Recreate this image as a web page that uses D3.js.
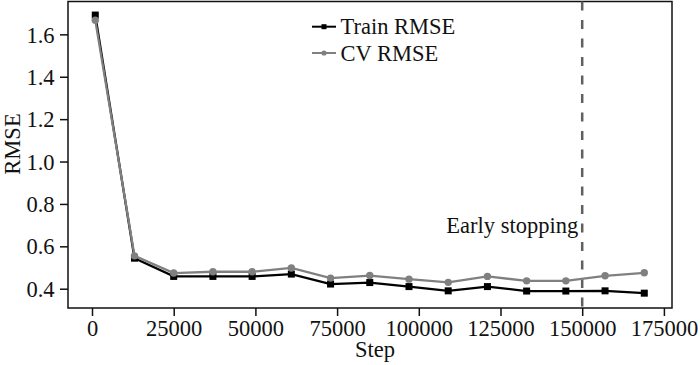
<!DOCTYPE html>
<html>
<head>
<meta charset="utf-8">
<script src="https://cdn.jsdelivr.net/npm/d3@7"></script>
<style>
  body { margin: 0; background: #fff; overflow: hidden; }
  svg { display: block; }
  text { font-family: "Liberation Serif", "Times New Roman", serif; }
</style>
</head>
<body>
<div id="main"></div>
<script>
// values
var steps = [1000, 13000, 25000, 37000, 49000, 61000, 73000, 85000, 97000, 109000, 121000, 133000, 145000, 157000, 169000];
var trainRmse = [1.691, 0.544, 0.458, 0.458, 0.458, 0.469, 0.422, 0.429, 0.41, 0.39, 0.41, 0.389, 0.389, 0.39, 0.379];
var cvRmse = [1.667, 0.555, 0.474, 0.48, 0.48, 0.498, 0.45, 0.462, 0.445, 0.43, 0.458, 0.437, 0.437, 0.461, 0.475];
var xTicks = [0, 25000, 50000, 75000, 100000, 125000, 150000, 175000];
var yTicks = [0.4, 0.6, 0.8, 1.0, 1.2, 1.4, 1.6];
var earlyStop = 150000;

var outerWidth = 700, outerHeight = 365;
var marginTop = 1.5, marginLeft = 68, marginRight = 28, marginBottom = 57;
var innerWidth = outerWidth - marginLeft - marginRight;
var innerHeight = outerHeight - marginTop - marginBottom;
var fontSize = 22.5;

var xScale = d3.scaleLinear().domain([-7344, 177480]).range([0, innerWidth]);
var yScale = d3.scaleLinear().domain([0.309, 1.755]).range([innerHeight, 0]);

var svg = d3.select("#main").append("svg")
    .attr("width", outerWidth)
    .attr("height", outerHeight);

var g = svg.append("g")
    .attr("transform", "translate(" + marginLeft + "," + marginTop + ")");

var xAxis = d3.axisBottom(xScale).tickValues(xTicks).tickFormat(d3.format("d")).tickSize(8).tickSizeOuter(0);
var yAxis = d3.axisLeft(yScale).tickValues(yTicks).tickFormat(d3.format(".1f")).tickSize(8).tickSizeOuter(0);

var xAxisG = g.append("g").attr("transform", "translate(0," + innerHeight + ")").call(xAxis);
var yAxisG = g.append("g").call(yAxis);

[xAxisG, yAxisG].forEach(a => {
    a.attr("font-size", fontSize).attr("font-family", "'Liberation Serif', serif");
    a.select(".domain").remove();
    a.selectAll(".tick line").attr("stroke", "#111").attr("stroke-width", 1.5);
    a.selectAll(".tick text").attr("fill", "#111");
});
xAxisG.selectAll(".tick text").attr("y", 12);
yAxisG.selectAll(".tick text").attr("x", -13.5).attr("dy", "0.34em");

// frame
g.append("rect")
    .attr("width", innerWidth)
    .attr("height", innerHeight)
    .attr("fill", "none")
    .attr("stroke", "#111")
    .attr("stroke-width", 1.5);

// early stopping marker
g.append("line")
    .attr("x1", xScale(earlyStop)).attr("x2", xScale(earlyStop))
    .attr("y1", 0).attr("y2", innerHeight)
    .attr("stroke", "#606060")
    .attr("stroke-width", 2.5)
    .attr("stroke-dasharray", "9,9.5");

g.append("text")
    .attr("x", xScale(earlyStop) - 4)
    .attr("y", 231.5)
    .attr("text-anchor", "end")
    .attr("fill", "#111")
    .attr("font-size", fontSize)
    .text("Early stopping");

var line = d3.line().x(d => xScale(d[0])).y(d => yScale(d[1]));

var cvData = steps.map((s, i) => [s, cvRmse[i]]);
var trainData = steps.map((s, i) => [s, trainRmse[i]]);

g.append("path").datum(trainData)
    .attr("d", line).attr("fill", "none").attr("stroke", "#000").attr("stroke-width", 2.3);
g.selectAll(".train").data(trainData).enter().append("rect")
    .attr("class", "train")
    .attr("x", d => xScale(d[0]) - 3.5)
    .attr("y", d => yScale(d[1]) - 3.5)
    .attr("width", 7).attr("height", 7)
    .attr("fill", "#000");

g.append("path").datum(cvData)
    .attr("d", line).attr("fill", "none").attr("stroke", "#808080").attr("stroke-width", 2.3);
g.selectAll(".cv").data(cvData).enter().append("circle")
    .attr("class", "cv")
    .attr("cx", d => xScale(d[0]))
    .attr("cy", d => yScale(d[1]))
    .attr("r", 3.7)
    .attr("fill", "#808080");

// legend
var legendItems = [
    { label: "Train RMSE", color: "#000", shape: "square", y: 26.7 },
    { label: "CV RMSE", color: "#808080", shape: "circle", y: 53 }
];
var legend = svg.selectAll(".legend").data(legendItems).enter().append("g")
    .attr("class", "legend")
    .attr("transform", d => "translate(312," + d.y + ")");
legend.append("line")
    .attr("x1", 0).attr("x2", 24)
    .attr("stroke", d => d.color).attr("stroke-width", 2);
legend.filter(d => d.shape == "square").append("rect")
    .attr("x", 9.5).attr("y", -2.5).attr("width", 5).attr("height", 5)
    .attr("fill", d => d.color);
legend.filter(d => d.shape == "circle").append("circle")
    .attr("cx", 12).attr("r", 2.6)
    .attr("fill", d => d.color);
legend.append("text")
    .attr("x", 28.5).attr("y", 7.5)
    .attr("fill", "#111")
    .attr("font-size", fontSize)
    .text(d => d.label);

// axis labels
svg.append("text")
    .attr("x", marginLeft + innerWidth / 2 + 5)
    .attr("y", 356.5)
    .attr("text-anchor", "middle")
    .attr("fill", "#111")
    .attr("font-size", fontSize)
    .text("Step");

svg.append("text")
    .attr("transform", "translate(19.5," + 144 + ") rotate(-90)")
    .attr("text-anchor", "middle")
    .attr("fill", "#111")
    .attr("font-size", fontSize)
    .text("RMSE");
</script>
</body>
</html>
